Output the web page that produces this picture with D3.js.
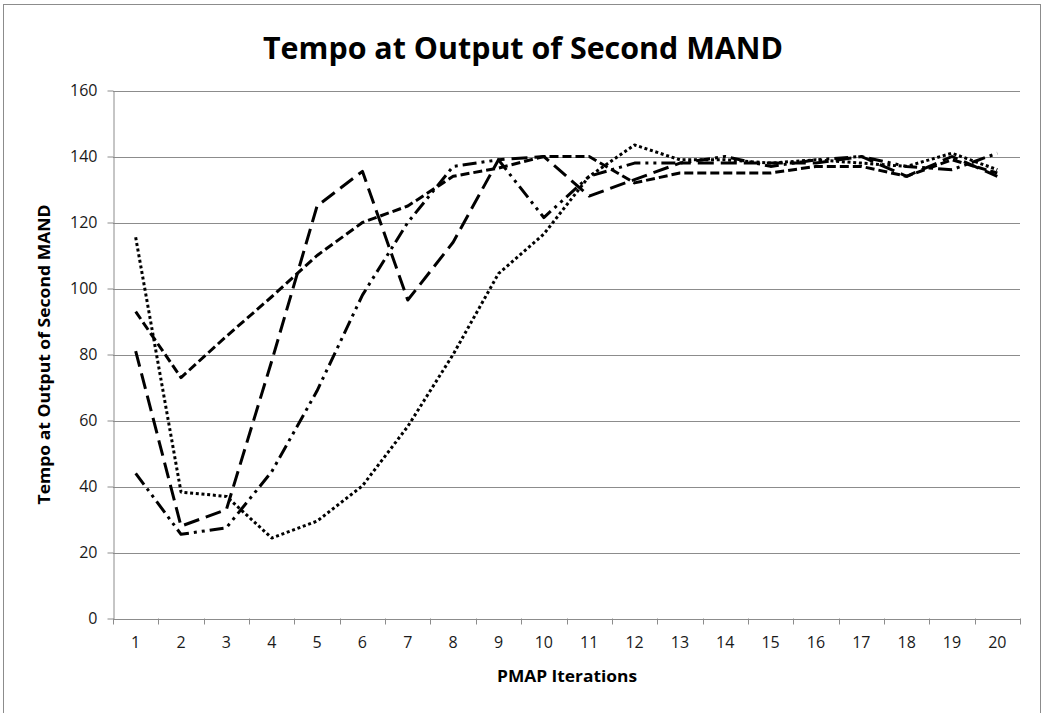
<!DOCTYPE html>
<html>
<head>
<meta charset="utf-8">
<script src="https://cdn.jsdelivr.net/npm/d3@7"></script>
<style>
  body { margin: 0; background: #fff; }
  svg { display: block; }
  text { font-family: "Open Sans", "Liberation Sans", sans-serif; }
</style>
</head>
<body>
<div id="chart"></div>
<script>
// values
var iterations = [1, 2, 3, 4, 5, 6, 7, 8, 9, 10, 11, 12, 13, 14, 15, 16, 17, 18, 19, 20];
var shortDash  = [93, 73, 85.5, 97.5, 110, 120, 125, 134, 136.5, 140, 140, 132, 135, 135, 135, 137, 137, 134, 139, 135];
var longDash   = [81, 28, 33, 78, 125, 135.5, 96.5, 114, 139, 140, 128, 133, 138, 138, 138, 138, 140, 134, 140, 134];
var dashDotDot = [44, 25.5, 27.5, 44.5, 69, 98, 120, 137, 139, 121.5, 134, 138, 138, 140, 137, 139, 140, 137, 136, 141];
var dotted     = [115.5, 38.3, 37, 24.4, 29.5, 40.2, 58.2, 80, 104.5, 116.5, 134, 143.5, 139, 139, 138, 139, 138, 137, 141, 136];
var yTicks = [0, 20, 40, 60, 80, 100, 120, 140, 160];

var chartTitle = "Tempo at Output of Second MAND";
var xTitle = "PMAP Iterations";
var yTitle = "Tempo at Output of Second MAND";

var series = [
  { values: shortDash, dash: "9,4" },
  { values: longDash, dash: "16,7" },
  { values: dashDotDot, dash: "14,5,3,5,3,5" },
  { values: dotted, dash: "3,2.7" }
];

const w = 1044;
const h = 713;
const plotLeft = 113, plotRight = 1020, plotTop = 90.5, plotBottom = 618.5;

const svg = d3.select("#chart").append("svg")
  .attr("width", w)
  .attr("height", h);

// outer frame
svg.append("rect")
  .attr("x", 3.5).attr("y", 4.5)
  .attr("width", 1037).attr("height", 730)
  .attr("fill", "none")
  .attr("stroke", "#8c8c8c")
  .attr("stroke-width", 1);

const xScale = d3.scaleBand().domain(iterations).range([plotLeft, plotRight]);
const yScale = d3.scaleLinear().domain([0, 160]).range([plotBottom, plotTop]);

// gridlines
svg.append("g")
  .selectAll("line")
  .data(yTicks.filter(d => d > 0))
  .enter()
  .append("line")
  .attr("x1", plotLeft).attr("x2", plotRight)
  .attr("y1", d => Math.round(yScale(d)) + 0.5)
  .attr("y2", d => Math.round(yScale(d)) + 0.5)
  .attr("stroke", "#8c8c8c")
  .attr("stroke-width", 1.2);

// y axis
const yAxis = d3.axisLeft(yScale).tickValues(yTicks).tickSize(6).tickPadding(10).tickSizeOuter(0);
const yAxisGroup = svg.append("g")
  .attr("transform", `translate(${plotLeft + 0.5}, 0)`)
  .call(yAxis);
yAxisGroup.selectAll("line").attr("stroke", "#8c8c8c");
yAxisGroup.select(".domain").attr("stroke", "#8c8c8c");
yAxisGroup.selectAll("text")
  .attr("font-size", 16)
  .attr("fill", "#1a1a1a")
  .style("font-family", "\"Open Sans\", sans-serif");

// x axis: labels centred in bands, ticks between categories
const xAxis = d3.axisBottom(xScale).tickSize(0).tickPadding(18).tickSizeOuter(0);
const xAxisGroup = svg.append("g")
  .attr("transform", `translate(0, ${plotBottom + 0.5})`)
  .call(xAxis);
xAxisGroup.select(".domain").attr("stroke", "#8c8c8c").attr("stroke-width", 1.2);
xAxisGroup.selectAll("text")
  .attr("font-size", 16)
  .attr("fill", "#1a1a1a")
  .style("font-family", "\"Open Sans\", sans-serif");

svg.append("g")
  .selectAll("line")
  .data(iterations.concat([null]))
  .enter()
  .append("line")
  .attr("x1", (d, i) => Math.round(plotLeft + i * xScale.step()) + 0.5)
  .attr("x2", (d, i) => Math.round(plotLeft + i * xScale.step()) + 0.5)
  .attr("y1", plotBottom)
  .attr("y2", plotBottom + 6)
  .attr("stroke", "#8c8c8c");

// series
const line = d3.line()
  .x((d, i) => xScale(iterations[i]) + xScale.bandwidth() / 2)
  .y(d => yScale(d));

svg.append("g")
  .selectAll("path")
  .data(series)
  .enter()
  .append("path")
  .attr("d", d => line(d.values))
  .attr("fill", "none")
  .attr("stroke", "#000")
  .attr("stroke-width", 3)
  .attr("stroke-linejoin", "round")
  .attr("stroke-dasharray", d => d.dash);

// titles
svg.append("text")
  .attr("x", 523)
  .attr("y", 59)
  .attr("text-anchor", "middle")
  .attr("font-size", 31)
  .attr("font-weight", "bold")
  .attr("fill", "#000")
  .attr("textLength", 520)
  .attr("lengthAdjust", "spacingAndGlyphs")
  .text(chartTitle);

svg.append("text")
  .attr("x", 567)
  .attr("y", 682)
  .attr("text-anchor", "middle")
  .attr("font-size", 16)
  .attr("font-weight", "bold")
  .attr("textLength", 140)
  .attr("lengthAdjust", "spacingAndGlyphs")
  .text(xTitle);

svg.append("text")
  .attr("transform", `translate(50, ${(plotTop + plotBottom) / 2}) rotate(-90)`)
  .attr("text-anchor", "middle")
  .attr("font-size", 16)
  .attr("font-weight", "bold")
  .attr("textLength", 300)
  .attr("lengthAdjust", "spacingAndGlyphs")
  .text(yTitle);
</script>
</body>
</html>
